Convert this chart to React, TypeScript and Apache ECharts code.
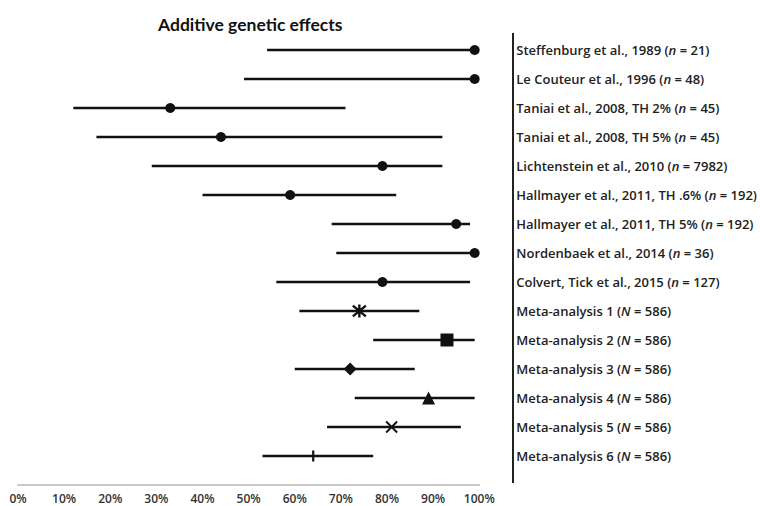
import React, { useEffect, useRef } from "react";
import * as echarts from "echarts";

const titleText = "Additive genetic effects";
const studies = [
  "Steffenburg et al., 1989",
  "Le Couteur et al., 1996",
  "Taniai et al., 2008, TH 2%",
  "Taniai et al., 2008, TH 5%",
  "Lichtenstein et al., 2010",
  "Hallmayer et al., 2011, TH .6%",
  "Hallmayer et al., 2011, TH 5%",
  "Nordenbaek et al., 2014",
  "Colvert, Tick et al., 2015",
  "Meta-analysis 1",
  "Meta-analysis 2",
  "Meta-analysis 3",
  "Meta-analysis 4",
  "Meta-analysis 5",
  "Meta-analysis 6",
];
const sampleSymbols = ["n", "n", "n", "n", "n", "n", "n", "n", "n", "N", "N", "N", "N", "N", "N"];
const sampleSizes = [21, 48, 45, 45, 7982, 192, 192, 36, 127, 586, 586, 586, 586, 586, 586];
const estimates = [99, 99, 33, 44, 79, 59, 95, 99, 79, 74, 93, 72, 89, 81, 64];
const lowerCI = [54, 49, 12, 17, 29, 40, 68, 69, 56, 61, 77, 60, 73, 67, 53];
const upperCI = [99, 99, 71, 92, 92, 82, 98, 99, 98, 87, 99, 86, 99, 96, 77];
const markers = [
  "circle", "circle", "circle", "circle", "circle", "circle", "circle", "circle", "circle",
  "asterisk", "square", "diamond", "triangle", "x", "plus",
];
const xTicks = [0, 10, 20, 30, 40, 50, 60, 70, 80, 90, 100];

const INK = "#111";

const markerStyle: Record<string, any> = {
  circle: { symbol: "circle", symbolSize: 10, itemStyle: { color: INK, opacity: 1 } },
  asterisk: {
    symbol: "path://M1,1L11,11M11,1L1,11M6,0L6,12",
    symbolSize: 13,
    itemStyle: { color: "none", borderColor: INK, borderWidth: 2.4, opacity: 1 },
  },
  square: { symbol: "rect", symbolSize: 13, itemStyle: { color: INK, opacity: 1 } },
  diamond: { symbol: "diamond", symbolSize: 13, itemStyle: { color: INK, opacity: 1 } },
  triangle: { symbol: "triangle", symbolSize: 13, itemStyle: { color: INK, opacity: 1 } },
  x: {
    symbol: "path://M0,0L10,10M10,0L0,10",
    symbolSize: 11,
    itemStyle: { color: "none", borderColor: INK, borderWidth: 1.8, opacity: 1 },
  },
  plus: {
    symbol: "path://M5,0L5,10M0,5L10,5",
    symbolSize: 11,
    itemStyle: { color: "none", borderColor: INK, borderWidth: 2.2, opacity: 1 },
  },
};

export default function App() {
  const ref = useRef<HTMLDivElement>(null);
  useEffect(() => {
    if (!ref.current) return;
    const chart = echarts.init(ref.current, null, { renderer: "svg" });
    const font = "'Open Sans', 'Noto Sans', sans-serif";
    chart.setOption({
      animation: false,
      backgroundColor: "#ffffff",
      title: {
        text: titleText,
        left: 153,
        top: 10,
        textStyle: { fontFamily: "Lato, 'Open Sans', sans-serif", fontSize: 17.5, fontWeight: "bold", color: "#111" },
      },
      grid: { left: 18, right: 279, top: 35.5, bottom: 35.5 },
      xAxis: {
        type: "value",
        min: 0,
        max: 100,
        interval: 10,
        offset: 14,
        axisLine: { show: true, lineStyle: { color: "#c8c8c8", width: 2 } },
        axisTick: { show: false },
        splitLine: { show: false },
        axisLabel: {
          formatter: "{value}%",
          margin: 8,
          fontFamily: font,
          fontSize: 12,
          fontWeight: 600,
          color: "#333",
        },
        data: xTicks,
      },
      yAxis: {
        type: "category",
        data: studies,
        inverse: true,
        position: "right",
        offset: 32,
        axisLine: { show: false },
        axisTick: { show: false },
        splitLine: { show: false },
        axisLabel: {
          margin: 5,
          fontFamily: font,
          fontSize: 13,
          fontWeight: 600,
          color: "#222",
          formatter: (_v: string, i: number) =>
            `${studies[i]} ({it|${sampleSymbols[i]}} = ${sampleSizes[i]})`,
          rich: {
            it: { fontFamily: font, fontSize: 13, fontWeight: 600, fontStyle: "italic", color: "#222" },
          },
        },
      },
      graphic: [
        {
          type: "line",
          shape: { x1: 513, y1: 33, x2: 513, y2: 483 },
          style: { stroke: "#222", lineWidth: 2 },
          z: 10,
        },
      ],
      series: [
        {
          type: "custom",
          data: studies.map((_s, i) => [lowerCI[i], upperCI[i], i]),
          encode: { x: [0, 1], y: 2 },
          renderItem: (_params: any, api: any) => {
            const y = api.value(2);
            const p1 = api.coord([api.value(0), y]);
            const p2 = api.coord([api.value(1), y]);
            return {
              type: "line",
              shape: { x1: p1[0], y1: p1[1], x2: p2[0], y2: p2[1] },
              style: { stroke: INK, lineWidth: 2.6 },
            };
          },
          z: 2,
        },
        {
          type: "scatter",
          itemStyle: { opacity: 1 },
          data: estimates.map((v, i) => {
            const m = markerStyle[markers[i]];
            return {
              value: [v, i],
              symbol: m.symbol,
              symbolSize: m.symbolSize,
              itemStyle: m.itemStyle,
            };
          }),
          z: 3,
        },
      ],
    });
    return () => chart.dispose();
  }, []);
  return (
    <div
      ref={ref}
      style={{ position: "fixed", left: 0, top: 0, width: 760, height: 506, background: "#fff" }}
    />
  );
}
